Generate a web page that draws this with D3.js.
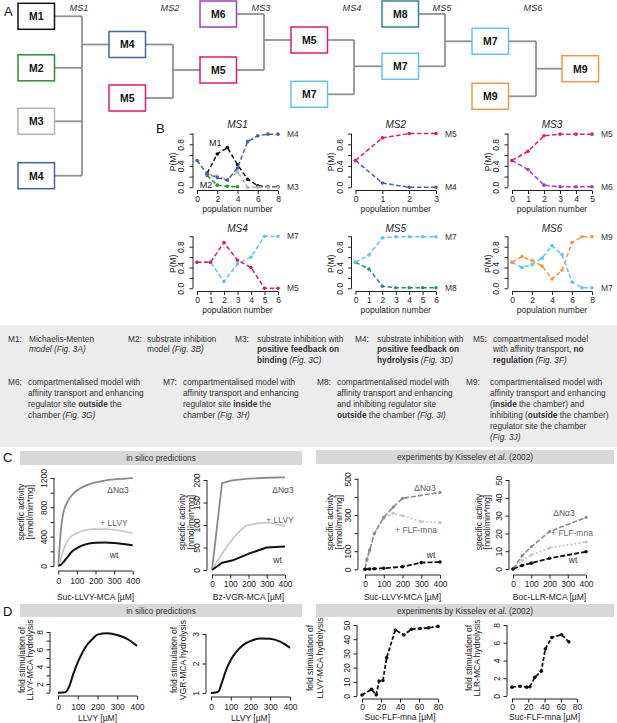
<!DOCTYPE html>
<html><head><meta charset="utf-8">
<script src="https://cdn.jsdelivr.net/npm/d3@7"></script>
<style>
body{margin:0;background:#fff;}
svg{display:block;font-family:"Liberation Sans",Arial,Helvetica,sans-serif;}
</style></head><body>
<svg id="fig" width="617" height="723"></svg>
<script>
// ================= DATA =================
// Panel A: tournament rounds (models per column)
const tournamentRounds = [
  ["M1","M2","M3","M4"],
  ["M4","M5"],
  ["M6","M5"],
  ["M5","M7"],
  ["M8","M7"],
  ["M7","M9"],
  ["M9"]
];
const roundLabels = ["MS1","MS2","MS3","MS4","MS5","MS6"];

// Panel B: P(M) vs population number
const ms1Pop = [0,1,2,3,4,5,6,7,8];
const ms1M1 = [null,0.26,0.62,0.74,0.42,0.15,0.03,0.01,0.01];
const ms1M2 = [null,0.22,0.04,0.02,0.01,null,null,null,null];
const ms1M3 = [null,0.25,0.21,0.15,0.29,0.0,0.0,0.0,0.0];
const ms1M4 = [0.50,0.25,0.18,0.13,0.36,0.85,0.96,0.99,0.99];
const ms2Pop = [0,1,2,3];
const ms2M4 = [0.5,0.08,0.0,0.0];
const ms2M5 = [0.5,0.92,1.0,1.0];
const ms3Pop = [0,1,2,3,4,5];
const ms3M5 = [0.5,0.67,0.96,0.99,0.99,0.99];
const ms3M6 = [0.5,0.33,0.04,0.01,0.01,0.01];
const ms4Pop = [0,1,2,3,4,5,6];
const ms4M5 = [0.5,0.5,0.88,0.54,0.4,0.0,0.0];
const ms4M7 = [0.5,0.5,0.13,0.47,0.6,1.0,1.0];
const ms5Pop = [0,1,2,3,4,5,6];
const ms5M7 = [0.5,0.64,0.97,0.99,0.99,0.99,0.99];
const ms5M8 = [0.5,0.37,0.04,0.01,0.01,0.01,0.01];
const ms6Pop = [0,1,2,3,4,5,6,7,8];
const ms6M9 = [0.5,0.61,0.54,0.43,0.18,0.35,0.88,0.99,0.99];
const ms6M7 = [0.5,0.40,0.46,0.58,0.82,0.65,0.12,0.01,0.01];

// Text box: model descriptions (segments: n normal, b bold, i italic)
const modelNotes = [
  {id:"M1:", lines:[[["Michaelis-Menten","n"]],[["model (Fig. 3A)","i"]]]},
  {id:"M2:", lines:[[["substrate inhibition","n"]],[["model ","n"],["(Fig. 3B)","i"]]]},
  {id:"M3:", lines:[[["substrate inhibition with","n"]],[["positive feedback on","b"]],[["binding","b"],[" (Fig. 3C)","i"]]]},
  {id:"M4:", lines:[[["substrate inhibition with","n"]],[["positive feedback on","b"]],[["hydrolysis","b"],[" (Fig. 3D)","i"]]]},
  {id:"M5:", lines:[[["compartmentalised model","n"]],[["with affinity transport, ","n"],["no","b"]],[["regulation","b"],[" (Fig. 3F)","i"]]]},
  {id:"M6:", lines:[[["compartmentalised model with","n"]],[["affinity transport and enhancing","n"]],[["regulator site ","n"],["outside","b"],[" the","n"]],[["chamber ","n"],["(Fig. 3G)","i"]]]},
  {id:"M7:", lines:[[["compartmentalised model with","n"]],[["affinity transport and enhancing","n"]],[["regulator site ","n"],["inside","b"],[" the","n"]],[["chamber ","n"],["(Fig. 3H)","i"]]]},
  {id:"M8:", lines:[[["compartmentalised model with","n"]],[["affinity transport and enhancing","n"]],[["and inhibiting regulator site","n"]],[["outside","b"],[" the chamber ","n"],["(Fig. 3I)","i"]]]},
  {id:"M9:", lines:[[["compartmentalised model with","n"]],[["affinity transport and enhancing","n"]],[["(","n"],["inside","b"],[" the chamber) and","n"]],[["inhibiting (","n"],["outside","b"],[" the chamber)","n"]],[["regulator site the chamber","n"]],[["(Fig. 3J)","i"]]]}
];

// Panel C: specific activity
const cSimLLVYx = [0,12.5,25,50,75,100,150,200,250,300,350,400];
const cSimLLVY_dN = [0,450,700,880,970,1030,1100,1140,1165,1180,1190,1200];
const cSimLLVY_plus = [0,90,200,345,415,450,490,503,505,495,475,447];
const cSimLLVY_wt = [0,15,45,125,200,245,298,318,322,315,300,283];
const cSimVGRx = [0,55,110,200,300,400];
const cSimVGR_dN = [0,193,199,203,205,206];
const cSimVGR_plusX = [0,50,100,200,300,400];
const cSimVGR_plus = [0,33,62,100,105,97];
const cSimVGR_wt = [0,16,21,36,50,52];
const cExpLLVY_dNx = [0,10,25,50,100,150,200,400];
const cExpLLVY_dN = [0,55,107,199,287,343,392,425];
const cExpLLVY_flfX = [0,10,25,50,100,150,200,300,400];
const cExpLLVY_flf = [0,50,105,195,285,310,296,263,258];
const cExpLLVY_wtX = [0,25,50,100,200,300,400];
const cExpLLVY_wt = [0,2,3,6,14,37,40];
const cExpLLRx = [0,50,100,200,400];
const cExpLLR_dN = [0,7.5,12.5,21,29];
const cExpLLR_flf = [0,4.8,7.8,11.8,15.2];
const cExpLLR_wt = [0,2,3.3,6,9.7];

// Panel D: fold stimulation
const dSimX = [0,25,40,50,60,75,100,125,150,175,200,250,300,350,400];
const dSimLLVY = [1,1.02,1.1,1.4,1.9,3.0,4.5,5.7,6.6,7.2,7.7,7.85,7.65,7.2,6.4];
const dSimVGR = [1,1.02,1.07,1.25,1.45,1.75,2.12,2.37,2.55,2.68,2.76,2.85,2.84,2.74,2.53];
const dExpLLVYx = [0,10,15,18,22,26,35,44,52,61,70,80];
const dExpLLVY = [0.7,4.7,0.8,10.5,11,27,46.5,43,47,47.5,48,49];
const dExpLLRx = [0,10,18,22,28,36,41,49,61,70];
const dExpLLR = [1,1.1,1.0,1.05,2.1,2.8,5.3,6.6,6.9,6.1];

// ================= STYLE / LAYOUT =================
const svg = d3.select("#fig");
const FONT = '"Liberation Sans", Arial, Helvetica, sans-serif';
const INK = "#222";
const modelColor = {M1:"#111111",M2:"#2e8b35",M3:"#b4b4b4",M4:"#4b5fa9",M5:"#e3196b",M6:"#9a3fc7",M7:"#5dc4ee",M8:"#2b8885",M9:"#f0983c"};

function txt(x,y,s,opt={}) {
  const t = svg.append("text").attr("x",x).attr("y",y).text(s)
    .attr("font-size",opt.size||8.5).attr("fill",opt.fill||INK)
    .attr("text-anchor",opt.anchor||"start");
  if (opt.italic) t.attr("font-style","italic");
  if (opt.bold) t.attr("font-weight","bold");
  if (opt.rotate) t.attr("transform",`rotate(-90,${x},${y})`);
  return t;
}

// ---------- Panel A ----------
const colX = [18,109,200,291,382,472,562];
const boxW = 36.5, boxH = 26;
const colCY = [[16.3,67.8,121.3,175.7],[44.5,98],[14,70],[40,94.3],[14,66.3],[41.3,96.3],[68.7]];
const bracketX = [82,173,264,354,445,536];
const winnerIdx = [0,1,0,1,0,0]; // index in next column receiving line
const gA = svg.append("g");
tournamentRounds.forEach((col,ci)=>{
  if (ci < tournamentRounds.length-1) {
    const cys = colCY[ci];
    const bx = bracketX[ci];
    cys.forEach(cy=>{
      gA.append("line").attr("x1",colX[ci]+boxW).attr("x2",bx).attr("y1",cy).attr("y2",cy);
    });
    gA.append("line").attr("x1",bx).attr("x2",bx).attr("y1",d3.min(cys)).attr("y2",d3.max(cys));
    const wy = colCY[ci+1][winnerIdx[ci]];
    gA.append("line").attr("x1",bx).attr("x2",colX[ci+1]).attr("y1",wy).attr("y2",wy);
  }
});
gA.selectAll("line").attr("stroke","#8f8f8f").attr("stroke-width",1.8);
tournamentRounds.forEach((col,ci)=>{
  col.forEach((m,mi)=>{
    const cy = colCY[ci][mi];
    gA.append("rect").attr("x",colX[ci]).attr("y",cy-boxH/2).attr("width",boxW).attr("height",boxH)
      .attr("fill","#fff").attr("stroke",modelColor[m]).attr("stroke-width",1.5);
    gA.append("text").attr("x",colX[ci]+boxW/2).attr("y",cy+3.8).attr("text-anchor","middle")
      .attr("font-size",10.5).attr("font-weight","bold").attr("fill","#111").text(m);
  });
});
const roundLabelX = [79,170,261,352,442,533];
roundLabels.forEach((s,i)=>txt(roundLabelX[i],10.5,s,{anchor:"middle",italic:true,size:9.2,fill:"#333"}));
txt(4,16,"A",{size:13,fill:"#111"});

// ---------- generic R-like plot ----------
function rPlot(p) {
  const x = d3.scaleLinear().domain(p.xd).range(p.xr);
  const y = d3.scaleLinear().domain(p.yd).range(p.yr);
  const fs = p.fs || 8.5;
  // x axis
  const gx = svg.append("g").attr("transform",`translate(0,${p.xAxisY})`)
    .call(d3.axisBottom(x).tickValues(p.xTicks).tickSize(3.5).tickSizeOuter(0)
      .tickFormat(d=> (!p.xLab || p.xLab.includes(d)) ? (p.xFmt? p.xFmt(d): String(d)) : ""));
  gx.attr("font-size",null).attr("font-family",null);
  gx.select(".domain").remove();
  gx.append("line").attr("x1",x(p.xTicks[0])).attr("x2",x(p.xTicks[p.xTicks.length-1])).attr("stroke",INK);
  gx.selectAll(".tick line").attr("stroke",INK);
  gx.selectAll(".tick text").attr("dy",null).attr("y",p.xLabOff).attr("font-size",fs).attr("fill",INK);
  // y axis
  const gy = svg.append("g").attr("transform",`translate(${p.yAxisX},0)`)
    .call(d3.axisLeft(y).tickValues(p.yTicks).tickSize(3.5).tickSizeOuter(0)
      .tickFormat(d=> (!p.yLab || p.yLab.includes(d)) ? (p.yFmt? p.yFmt(d): String(d)) : ""));
  gy.attr("font-size",null).attr("font-family",null);
  gy.select(".domain").remove();
  gy.append("line").attr("y1",y(p.yTicks[0])).attr("y2",y(p.yTicks[p.yTicks.length-1])).attr("stroke",INK);
  gy.selectAll(".tick line").attr("stroke",INK);
  gy.selectAll(".tick text").attr("x",null).attr("dy",null).attr("text-anchor","middle")
    .attr("transform",`translate(${-p.yLabOff},0) rotate(-90)`).attr("font-size",fs).attr("fill",INK);
  // titles
  if (p.xTitle) txt((x(p.xTicks[0])+x(p.xTicks[p.xTicks.length-1]))/2, p.xTitleY, p.xTitle,{anchor:"middle",size:fs});
  if (p.yTitle) p.yTitle.forEach((s,i)=>txt(p.yTitleX[i], p.yTitleCY, s,{anchor:"middle",rotate:true,size:fs}));
  return {x,y};
}

function drawSeries(sc, xs, ys, o) {
  const pts = xs.map((v,i)=>({x:v,y:ys[i]})).filter(d=>d.y!==null && d.y!==undefined);
  const line = d3.line().x(d=>sc.x(d.x)).y(d=>sc.y(d.y));
  if (o.curve) line.curve(o.curve);
  svg.append("path").attr("d",line(pts)).attr("fill","none").attr("stroke",o.color)
    .attr("stroke-width",o.width||1.5).attr("stroke-dasharray",o.dash||null)
    .attr("stroke-linejoin","round");
  if (o.dots) {
    svg.append("g").selectAll("circle").data(pts).join("circle")
      .attr("cx",d=>sc.x(d.x)).attr("cy",d=>sc.y(d.y)).attr("r",o.r||1.7).attr("fill",o.color);
  }
}

// ---------- Panel B ----------
txt(156,133,"B",{size:13,fill:"#111"});
const bCols = [[197,278],[355.5,436],[512,592]];
const bRows = [
  {yr:[187.3,133.6], xAxisY:190.5, title:127.5},
  {yr:[288.3,236.3], xAxisY:291.5, title:231.5}
];
const bPanels = [
  {t:"MS1", r:0,c:0, xs:ms1Pop, xTicks:[0,2,4,6,8], series:[["M1",ms1M1],["M2",ms1M2],["M3",ms1M3],["M4",ms1M4]], right:[["M4",ms1M4],["M3",ms1M3]]},
  {t:"MS2", r:0,c:1, xs:ms2Pop, xTicks:[0,1,2,3], series:[["M4",ms2M4],["M5",ms2M5]], right:[["M5",ms2M5],["M4",ms2M4]]},
  {t:"MS3", r:0,c:2, xs:ms3Pop, xTicks:[0,1,2,3,4,5], series:[["M6",ms3M6],["M5",ms3M5]], right:[["M5",ms3M5],["M6",ms3M6]]},
  {t:"MS4", r:1,c:0, xs:ms4Pop, xTicks:[0,1,2,3,4,5,6], series:[["M7",ms4M7],["M5",ms4M5]], right:[["M7",ms4M7],["M5",ms4M5]]},
  {t:"MS5", r:1,c:1, xs:ms5Pop, xTicks:[0,1,2,3,4,5,6], series:[["M8",ms5M8],["M7",ms5M7]], right:[["M7",ms5M7],["M8",ms5M8]]},
  {t:"MS6", r:1,c:2, xs:ms6Pop, xTicks:[0,2,4,6,8], series:[["M7",ms6M7],["M9",ms6M9]], right:[["M9",ms6M9],["M7",ms6M7]]}
];
bPanels.forEach(bp=>{
  const col = bCols[bp.c], row = bRows[bp.r];
  const xmax = bp.xs[bp.xs.length-1];
  const sc = rPlot({xd:[0,xmax], xr:col, yd:[0,1], yr:row.yr,
    xAxisY:row.xAxisY, yAxisX:col[0]-4, xTicks:bp.xTicks, yTicks:[0,0.2,0.4,0.6,0.8,1.0],
    yLab:[0,0.4,0.8], yFmt:d3.format(".1f"), xLabOff:11.5, yLabOff:9,
    xTitle:"population number", xTitleY:row.xAxisY+21.5,
    yTitle:["P(M)"], yTitleX:[col[0]-21], yTitleCY:(row.yr[0]+row.yr[1])/2+1.5});
  bp.series.forEach(([m,vals])=>drawSeries(sc,bp.xs,vals,{color:modelColor[m],dash:"4.5,2.5",width:1.5,dots:true,r:1.8}));
  txt((col[0]+col[1])/2, row.title, bp.t, {anchor:"middle",italic:true,size:10,fill:"#222"});
  bp.right.forEach(([m,vals])=>txt(col[1]+9, sc.y(vals[vals.length-1])+3, m, {size:8.5,fill:"#333"}));
  if (bp.t==="MS1") {
    txt(sc.x(1.8), sc.y(0.83)+3, "M1", {anchor:"middle",size:9,fill:"#222"});
    txt(sc.x(0.9), sc.y(0.04)+3, "M2", {anchor:"middle",size:9,fill:"#222"});
  }
});

// ---------- Text box ----------
svg.append("rect").attr("x",0).attr("y",325).attr("width",617).attr("height",122).attr("fill","#ececec");
const noteLayout = [
  {ix:8,tx:29,y:341.5},{ix:128,tx:147,y:341.5},{ix:235,tx:257,y:341.5},{ix:355,tx:377,y:341.5},{ix:473,tx:493,y:341.5},
  {ix:8,tx:28,y:385},{ix:163,tx:183,y:385},{ix:317,tx:337,y:385},{ix:466,tx:490,y:385}
];
modelNotes.forEach((n,i)=>{
  const L = noteLayout[i];
  txt(L.ix, L.y, n.id, {size:8.3,fill:"#333"});
  n.lines.forEach((segs,li)=>{
    const t = svg.append("text").attr("x",L.tx).attr("y",L.y+li*10.9).attr("font-size",8.3).attr("fill","#333");
    segs.forEach(([s,st])=>{
      const ts = t.append("tspan").text(s);
      if (st==="b") ts.attr("font-weight","bold");
      if (st==="i") ts.attr("font-style","italic");
    });
  });
});

// ---------- header bars ----------
function headerBar(x,y,w,h,segs) {
  svg.append("rect").attr("x",x).attr("y",y).attr("width",w).attr("height",h).attr("fill","#d8d8d8");
  const t = svg.append("text").attr("x",x+w/2).attr("y",y+h/2+3).attr("text-anchor","middle").attr("font-size",8.3).attr("fill","#333");
  segs.forEach(([s,st])=>{ const ts=t.append("tspan").text(s); if(st==="i") ts.attr("font-style","italic"); });
}

// ---------- Panel C ----------
const specTitle = ["specific activity","[nmol/min*mg]"];
const c1 = rPlot({xd:[0,400], xr:[58.3,132.7], yd:[0,1200], yr:[566,478], xAxisY:571, yAxisX:54,
  xTicks:[0,100,200,300,400], yTicks:[0,200,400,600,800,1000,1200], yLab:[0,400,800,1200],
  xLabOff:12.5, yLabOff:7, xTitle:"Suc-LLVY-MCA [\u00b5M]", xTitleY:600,
  yTitle:specTitle, yTitleX:[24,33], yTitleCY:512});
drawSeries(c1,cSimLLVYx,cSimLLVY_dN,{color:"#8a8a8a",width:1.8,curve:d3.curveMonotoneX});
drawSeries(c1,cSimLLVYx,cSimLLVY_plus,{color:"#c4c4c4",width:1.6,curve:d3.curveMonotoneX});
drawSeries(c1,cSimLLVYx,cSimLLVY_wt,{color:"#111",width:2,curve:d3.curveMonotoneX});
txt(118,493,"\u0394N\u03b13",{anchor:"middle",fill:"#555"});
txt(114,526,"+ LLVY",{anchor:"middle",fill:"#666"});
txt(114,558,"wt",{anchor:"middle",fill:"#333"});

const c2 = rPlot({xd:[0,400], xr:[212,285], yd:[0,200], yr:[570,480], xAxisY:575, yAxisX:207,
  xTicks:[0,100,200,300,400], yTicks:[0,50,100,150,200],
  xLabOff:11.5, yLabOff:7, xTitle:"Bz-VGR-MCA [\u00b5M]", xTitleY:600,
  yTitle:specTitle, yTitleX:[185,194], yTitleCY:522});
drawSeries(c2,cSimVGRx,cSimVGR_dN,{color:"#8a8a8a",width:1.8});
drawSeries(c2,cSimVGR_plusX,cSimVGR_plus,{color:"#c4c4c4",width:1.6,curve:d3.curveMonotoneX});
drawSeries(c2,cSimVGRx,cSimVGR_wt,{color:"#111",width:2});
txt(283,493,"\u0394N\u03b13",{anchor:"middle",fill:"#555"});
txt(280,523,"+ LLVY",{anchor:"middle",fill:"#666"});
txt(277.5,563,"wt",{anchor:"middle",fill:"#333"});

const c3 = rPlot({xd:[0,400], xr:[365,440], yd:[0,500], yr:[569.3,478.8], xAxisY:575, yAxisX:358,
  xTicks:[0,100,200,300,400], yTicks:[0,100,200,300,400,500], yLab:[0,100,300,500],
  xLabOff:11.5, yLabOff:7, xTitle:"Suc-LLVY-MCA [\u00b5M]", xTitleY:600,
  yTitle:specTitle, yTitleX:[333,342], yTitleCY:522});
drawSeries(c3,cExpLLVY_flfX,cExpLLVY_flf,{color:"#c4c4c4",width:1.6,dash:"2,2",dots:true,r:1.6});
drawSeries(c3,cExpLLVY_dNx,cExpLLVY_dN,{color:"#8a8a8a",width:1.6,dash:"5,2",dots:true,r:1.6});
drawSeries(c3,cExpLLVY_wtX,cExpLLVY_wt,{color:"#111",width:1.8,dash:"5,2",dots:true,r:1.8});
txt(425,491,"\u0394N\u03b13",{anchor:"middle",fill:"#555"});
txt(416,533,"+ FLF-mna",{anchor:"middle",fill:"#666"});
txt(431,558,"wt",{anchor:"middle",fill:"#333"});

const c4 = rPlot({xd:[0,400], xr:[513,586], yd:[0,50], yr:[569,480], xAxisY:575, yAxisX:509,
  xTicks:[0,100,200,300,400], yTicks:[0,10,20,30,40,50],
  xLabOff:11.5, yLabOff:7, xTitle:"Boc-LLR-MCA [\u00b5M]", xTitleY:600,
  yTitle:specTitle, yTitleX:[482,490], yTitleCY:522});
drawSeries(c4,cExpLLRx,cExpLLR_flf,{color:"#c4c4c4",width:1.6,dash:"2,2",dots:true,r:1.6});
drawSeries(c4,cExpLLRx,cExpLLR_dN,{color:"#8a8a8a",width:1.6,dash:"5,2",dots:true,r:1.6});
drawSeries(c4,cExpLLRx,cExpLLR_wt,{color:"#111",width:1.8,dash:"5,2",dots:true,r:1.8});
txt(564,516,"\u0394N\u03b13",{anchor:"middle",fill:"#555"});
txt(572,536,"+ FLF-mna",{anchor:"middle",fill:"#666"});
txt(573,563,"wt",{anchor:"middle",fill:"#333"});

headerBar(20,451,282,14,[["in silico predictions","n"]]);
headerBar(316,450,298,14,[["experiments by Kisselev ","n"],["et al.","i"],[" (2002)","n"]]);
txt(3,462,"C",{size:13,fill:"#111"});

// ---------- Panel D ----------
const d1 = rPlot({xd:[0,400], xr:[58,137], yd:[1,8], yr:[692.7,632], xAxisY:696, yAxisX:50,
  xTicks:[0,100,200,300,400], yTicks:[1,2,3,4,5,6,7,8], yLab:[2,4,6,8],
  xLabOff:13.5, yLabOff:7, xTitle:"LLVY [\u00b5M]", xTitleY:720.5,
  yTitle:["fold stimulation of","LLVY-MCA hydrolysis"], yTitleX:[25,33], yTitleCY:660});
drawSeries(d1,dSimX,dSimLLVY,{color:"#111",width:2,curve:d3.curveMonotoneX});

const d2 = rPlot({xd:[0,400], xr:[211,290], yd:[1,3], yr:[693,634], xAxisY:697, yAxisX:206,
  xTicks:[0,100,200,300,400], yTicks:[1,2,3],
  xLabOff:13, yLabOff:7, xTitle:"LLVY [\u00b5M]", xTitleY:720.5,
  yTitle:["fold stimulation of","VGR-MCA hydrolysis"], yTitleX:[177,186], yTitleCY:660});
drawSeries(d2,dSimX,dSimVGR,{color:"#111",width:2,curve:d3.curveMonotoneX});

const d3p = rPlot({xd:[0,80], xr:[362,438], yd:[0,50], yr:[696,625], xAxisY:699, yAxisX:357,
  xTicks:[0,20,40,60,80], yTicks:[0,10,20,30,40,50],
  xLabOff:11, yLabOff:7, xTitle:"Suc-FLF-mna [\u00b5M]", xTitleY:720,
  yTitle:["fold stimulation of","LLVY-MCA hydrolysis"], yTitleX:[313,323], yTitleCY:658});
drawSeries(d3p,dExpLLVYx,dExpLLVY,{color:"#111",width:1.8,dash:"4,2",dots:true,r:1.8});

const d4 = rPlot({xd:[0,80], xr:[512,577], yd:[0,8], yr:[696,625], xAxisY:699, yAxisX:507,
  xTicks:[0,20,40,60,80], yTicks:[0,2,4,6,8],
  xLabOff:11, yLabOff:7, xTitle:"Suc-FLF-mna [\u00b5M]", xTitleY:720,
  yTitle:["fold stimulation of","LLR-MCA hydrolysis"], yTitleX:[472,480], yTitleCY:658});
drawSeries(d4,dExpLLRx,dExpLLR,{color:"#111",width:1.8,dash:"4,2",dots:true,r:1.8});

headerBar(20,604,282,13,[["in silico predictions","n"]]);
headerBar(316,604,298,13,[["experiments by Kisselev ","n"],["et al.","i"],[" (2002)","n"]]);
txt(3,616,"D",{size:13,fill:"#111"});
</script></body></html>
